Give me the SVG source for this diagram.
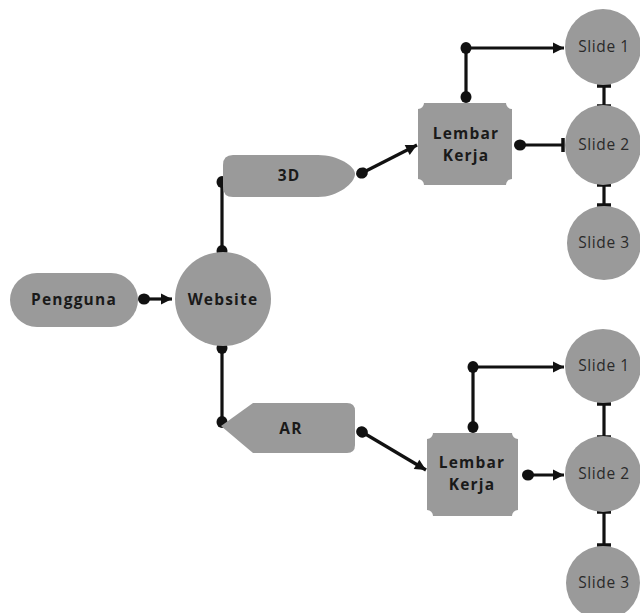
<svg xmlns="http://www.w3.org/2000/svg" width="640" height="613" viewBox="0 0 640 613">
<style>
.shape{fill:#9a9a9a;stroke:none}
.lbl{font-family:"Open Sans","DejaVu Sans",sans-serif;font-weight:bold;font-size:15.5px;fill:#1a1a1a;text-anchor:middle;letter-spacing:1.2px}
.sl{font-family:"Open Sans","DejaVu Sans",sans-serif;font-size:15.5px;fill:#2a2a2a;text-anchor:middle;letter-spacing:0.6px}
.c{fill:none;stroke:#111;stroke-width:3.2}
</style>
<defs>
<marker id="dot" markerUnits="userSpaceOnUse" markerWidth="14" markerHeight="14" viewBox="-7 -7 14 14" refX="0" refY="0" orient="auto"><ellipse cx="0" cy="0" rx="6" ry="5.5" fill="#111"/></marker>
<marker id="arr" markerUnits="userSpaceOnUse" markerWidth="14" markerHeight="14" viewBox="-12 -7 14 14" refX="0" refY="0" orient="auto"><path d="M-11,-5.5 L0,0 L-11,5.5 Z" fill="#111"/></marker>
<marker id="tee" markerUnits="userSpaceOnUse" markerWidth="16" markerHeight="16" viewBox="-8 -8 16 16" refX="0" refY="0" orient="auto"><path d="M0,-7 L0,7" stroke="#111" stroke-width="3.5"/></marker>
</defs>

<g id="connectors">
<path class="c" d="M144,299 L172,299" marker-start="url(#dot)" marker-end="url(#arr)"/>
<path class="c" d="M222,182 L222,251" marker-start="url(#dot)" marker-end="url(#dot)"/>
<path class="c" d="M222,348 L222,422" marker-start="url(#dot)" marker-end="url(#dot)"/>
<path class="c" d="M362,173 L417,145" marker-start="url(#dot)" marker-end="url(#arr)"/>
<path class="c" d="M362,432 L426,470" marker-start="url(#dot)" marker-end="url(#arr)"/>
<path class="c" d="M466,97 L466,48" marker-start="url(#dot)" marker-end="url(#dot)"/>
<path class="c" d="M466,48 L564,48" marker-end="url(#arr)"/>
<path class="c" d="M520,145 L563,145" marker-start="url(#dot)" marker-end="url(#tee)"/>
<path class="c" d="M604,86 L604,106" marker-start="url(#tee)" marker-end="url(#tee)"/>
<path class="c" d="M604,185 L604,205" marker-start="url(#tee)" marker-end="url(#tee)"/>
<path class="c" d="M473,427 L473,367" marker-start="url(#dot)" marker-end="url(#dot)"/>
<path class="c" d="M473,367 L564,367" marker-end="url(#arr)"/>
<path class="c" d="M528,475 L564,475" marker-start="url(#dot)" marker-end="url(#arr)"/>
<path class="c" d="M604,404 L604,437" marker-start="url(#tee)" marker-end="url(#tee)"/>
<path class="c" d="M604,512 L604,545" marker-start="url(#tee)" marker-end="url(#tee)"/>
</g>

<g id="pengguna">
<rect class="shape" x="10" y="273" width="128" height="54" rx="27"/>
<text class="lbl" x="74" y="305">Pengguna</text>
</g>
<g id="website">
<ellipse class="shape" cx="223" cy="299" rx="48" ry="47"/>
<text class="lbl" x="223" y="305">Website</text>
</g>
<g id="node3d">
<path class="shape" d="M233,155 H318 C338,155 355,166 355,174 C355,183 338,197 318,197 H233 Q223,197 223,187 V165 Q223,155 233,155 Z"/>
<text class="lbl" x="289" y="181">3D</text>
</g>
<g id="nodeAR">
<path class="shape" d="M221,426 L253,403 H347 Q355,403 355,411 V445 Q355,453 347,453 H253 Z"/>
<text class="lbl" x="291" y="434">AR</text>
</g>
<g id="lembar1">
<path class="shape" d="M424,103 H506 A6,6 0 0 0 512,109 V179 A6,6 0 0 0 506,185 H424 A6,6 0 0 0 418,179 V109 A6,6 0 0 0 424,103 Z"/>
<text class="lbl" x="466" y="139">Lembar</text>
<text class="lbl" x="466" y="161">Kerja</text>
</g>
<g id="lembar2">
<path class="shape" d="M433,433 H512 A6,6 0 0 0 518,439 V510 A6,6 0 0 0 512,516 H433 A6,6 0 0 0 427,510 V439 A6,6 0 0 0 433,433 Z"/>
<text class="lbl" x="472" y="468">Lembar</text>
<text class="lbl" x="472" y="490">Kerja</text>
</g>
<g id="slide1a">
<ellipse class="shape" cx="603" cy="47" rx="38" ry="38"/>
<text class="sl" x="604" y="52">Slide 1</text>
</g>
<g id="slide2a">
<ellipse class="shape" cx="603" cy="145" rx="38" ry="40"/>
<text class="sl" x="604" y="150">Slide 2</text>
</g>
<g id="slide3a">
<ellipse class="shape" cx="604" cy="243" rx="37" ry="37"/>
<text class="sl" x="604" y="248">Slide 3</text>
</g>
<g id="slide1b">
<ellipse class="shape" cx="603" cy="366" rx="38" ry="37"/>
<text class="sl" x="604" y="371">Slide 1</text>
</g>
<g id="slide2b">
<ellipse class="shape" cx="603" cy="474" rx="38" ry="38"/>
<text class="sl" x="604" y="479">Slide 2</text>
</g>
<g id="slide3b">
<ellipse class="shape" cx="603" cy="583" rx="37" ry="37"/>
<text class="sl" x="604" y="588">Slide 3</text>
</g>
</svg>
